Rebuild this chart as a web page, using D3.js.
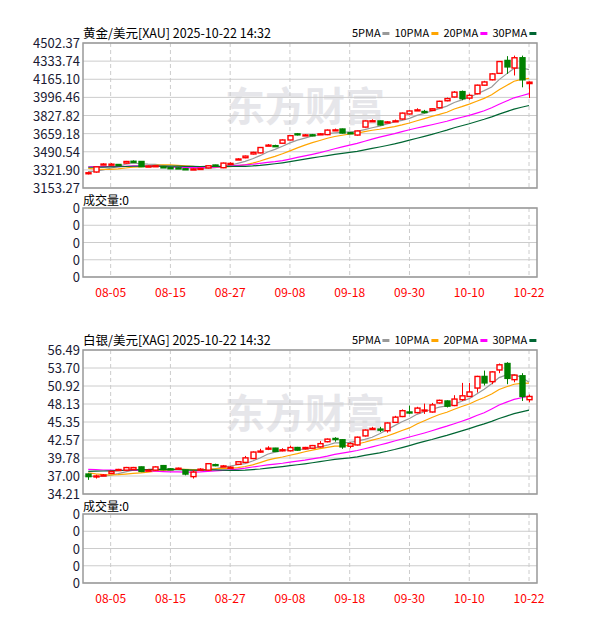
<!DOCTYPE html>
<style>* {padding:0; margin:0; border:0;} body{background:#fff;}</style>
<body>
<script src="https://d3js.org/d3.v7.min.js"></script>
<script>
// x tick labels and the candle index they sit on
dateLabels = ["08-05","08-15","08-27","09-08","09-18","09-30","10-10","10-22"]
dateIdx = [3, 11, 19, 27, 35, 43, 51, 59]

goldTicks = ["4502.37","4333.74","4165.10","3996.46","3827.82","3659.18","3490.54","3321.90","3153.27"]
silverTicks = ["56.49","53.70","50.92","48.13","45.35","42.57","39.78","37.00","34.21"]

// closes before the first visible day, used only for the moving averages
goldPrev = [3340,3345,3330,3310,3325,3340,3350,3355,3340,3330,3345,3350,3360,3375,3350,3340,3355,3370,3390,3420,3430,3395,3370,3335,3310,3325,3320,3295,3290]
silverPrev = [36.2,36.5,36.8,36.9,36.7,36.8,37.1,37.4,38.2,38.4,38.2,38.1,38.3,38.5,37.9,38.2,38.8,39.1,39.3,39.2,38.9,38.3,38.1,37.6,37.3,37.2,37.0,36.9,36.8]

// [open, close, high, low]
gold = [
 [3288,3295,3305,3280],[3302,3350,3355,3296],[3372,3376,3384,3366],[3372,3375,3385,3365],[3372,3370,3376,3366],
 [3385,3400,3405,3380],[3402,3398,3410,3390],[3400,3352,3404,3348],[3355,3357,3362,3350],[3358,3360,3365,3352],
 [3350,3348,3356,3340],[3342,3340,3346,3334],[3340,3338,3344,3332],[3332,3330,3336,3325],[3328,3330,3335,3324],
 [3333,3335,3340,3328],[3340,3360,3364,3336],[3367,3363,3370,3358],[3342,3385,3390,3338],[3378,3382,3392,3372],
 [3420,3423,3430,3414],[3435,3450,3455,3430],[3470,3485,3490,3465],[3480,3530,3535,3476],[3548,3552,3562,3544],
 [3547,3545,3556,3536],[3570,3600,3605,3566],[3600,3640,3646,3596],[3657,3654,3665,3642],[3645,3647,3655,3640],
 [3648,3645,3656,3635],[3654,3657,3665,3650],[3650,3692,3698,3645],[3691,3694,3706,3688],[3702,3665,3706,3660],
 [3667,3665,3672,3658],[3646,3684,3688,3640],[3720,3777,3782,3716],[3776,3779,3792,3770],[3777,3740,3780,3735],
 [3766,3768,3776,3760],[3776,3778,3790,3770],[3795,3850,3855,3790],[3842,3870,3876,3838],[3878,3880,3895,3874],
 [3865,3862,3880,3848],[3875,3890,3895,3870],[3900,3960,3965,3895],[3965,3985,3995,3960],[4000,4045,4055,3995],
 [4050,3985,4060,3970],[3990,4015,4030,3975],[4030,4110,4115,4025],[4110,4140,4150,4105],[4160,4215,4222,4155],
 [4220,4330,4335,4215],[4340,4280,4380,4215],[4270,4365,4385,4200],[4365,4160,4385,4090],[4125,4138,4145,3990]
]

silver = [
 [37.3,36.9,37.4,36.4],[36.95,37.0,37.2,36.6],[37.1,37.15,37.3,37.0],[37.4,37.7,37.8,37.3],[37.9,38.0,38.1,37.8],
 [37.9,38.3,38.4,37.8],[38.0,38.3,38.4,37.9],[38.4,37.7,38.45,37.6],[37.85,37.9,38.0,37.8],[37.9,38.4,38.5,37.8],
 [38.6,38.0,38.7,37.9],[38.1,38.05,38.2,37.95],[38.15,38.2,38.3,38.05],[37.9,37.3,38.0,37.1],[36.9,37.6,37.9,36.6],
 [38.0,38.05,38.2,37.9],[37.9,38.9,39.0,37.8],[38.75,38.7,38.9,38.5],[38.5,38.55,38.7,38.4],[38.3,38.35,38.5,38.2],
 [38.8,39.2,39.3,38.7],[39.1,39.8,40.1,39.0],[39.7,40.7,40.8,39.6],[40.8,40.85,41.2,40.6],[41.25,41.3,41.6,41.0],
 [41.3,40.8,41.35,40.7],[41.0,41.05,41.3,40.8],[40.9,41.4,41.7,40.8],[41.4,41.0,41.5,40.9],[41.2,41.4,41.5,41.1],
 [41.3,41.7,41.8,41.2],[41.5,42.0,42.4,41.4],[42.3,42.7,42.8,42.2],[42.8,42.75,43.0,42.3],[42.6,41.5,42.7,41.2],
 [41.6,42.0,42.2,41.3],[41.8,43.0,43.1,41.7],[43.2,44.1,44.2,43.1],[44.3,44.35,44.6,44.2],[44.25,44.2,44.6,43.8],
 [44.0,45.2,45.3,43.7],[45.3,46.1,46.3,45.2],[46.2,47.1,47.3,46.1],[46.9,46.8,47.9,46.6],[46.8,47.5,47.7,46.7],
 [47.15,47.2,48.2,46.6],[46.9,48.0,48.3,46.8],[48.3,48.7,48.8,48.2],[48.6,47.8,48.7,47.6],[47.9,48.9,49.5,47.8],
 [48.8,49.4,51.4,48.6],[49.3,50.0,51.4,49.2],[50.6,52.4,52.5,49.9],[52.4,51.4,53.3,51.0],[51.6,53.1,53.2,51.2],
 [53.4,54.2,54.4,52.9],[54.4,52.1,54.6,51.2],[51.9,52.6,52.7,51.5],[52.5,49.3,52.9,48.6],[48.8,49.3,49.6,48.4]
]

maNames = ["5PMA","10PMA","20PMA","30PMA"]
maDays = [5, 10, 20, 30]
maColors = ["#999999","#ffa500","#ff00ff","#006633"]

width = 599, height = 624
left = 83, right = 537
red = "#ff0000", green = "#008000"
font = "'Noto Sans CJK SC', 'DejaVu Sans', sans-serif"

svg = d3.select('body').append('svg').attr('width', width).attr('height', height)

x = d3.scaleLinear().domain([-0.7, 60.07]).range([left, right])

function movingAvg(prev, data, n){
  var closes = prev.concat(data.map(function(d){return d[1];}))
  return data.map(function(d, i){
    var end = prev.length + i + 1
    return d3.mean(closes.slice(end - n, end))
  })
}

function grid(g, top, bottom, n){
  var ys = d3.range(n + 1).map(function(i){return top + (bottom - top) * i / n})
  g.selectAll('line.h').data(ys).enter().append('line')
    .attr('x1', left).attr('x2', right).attr('y1', function(d){return d}).attr('y2', function(d){return d})
    .attr('stroke', '#cccccc')
  g.selectAll('line.v').data(dateIdx).enter().append('line')
    .attr('x1', function(d){return x(d)}).attr('x2', function(d){return x(d)})
    .attr('y1', top).attr('y2', bottom)
    .attr('stroke', '#cccccc').attr('stroke-dasharray', '4,3')
  g.append('rect').attr('x', left).attr('y', top).attr('width', right - left).attr('height', bottom - top)
    .attr('fill', 'none').attr('stroke', '#999999').attr('stroke-width', 1.5)
}

function panel(cfg){
  var g = svg.append('g')
  var y = d3.scaleLinear().domain(cfg.domain).range([cfg.bottom, cfg.top])

  g.append('text').attr('x', left).attr('y', cfg.top - 5).text(cfg.title)
    .style('font', '12.5px ' + font).attr('fill', '#000')

  var lx = 352
  maNames.forEach(function(nm, i){
    g.append('text').attr('x', lx).attr('y', cfg.top - 6).text(nm)
      .style('font', '11px ' + font).attr('fill', '#000')
    lx += nm.length * 6.6 + 4
    g.append('rect').attr('x', lx).attr('y', cfg.top - 11).attr('width', 7).attr('height', 3).attr('fill', maColors[i])
    lx += 12
  })

  // watermark
  g.append('text').attr('x', 305).attr('y', cfg.top + 78).attr('text-anchor', 'middle')
    .text('东方财富').style('font', 'bold 40px ' + font).attr('fill', '#e6e6ea')

  grid(g, cfg.top, cfg.bottom, 8)

  g.selectAll('text.yl').data(cfg.ticks).enter().append('text')
    .attr('x', left - 3).attr('y', function(d, i){return cfg.top + (cfg.bottom - cfg.top) * i / 8 + 5})
    .attr('text-anchor', 'end').text(function(d){return d})
    .style('font', '13px ' + font).attr('fill', '#1a1a33')

  // moving averages
  maDays.forEach(function(n, k){
    var ma = movingAvg(cfg.prev, cfg.data, n)
    g.append('path').datum(ma)
      .attr('d', d3.line().x(function(d, i){return x(i)}).y(function(d){return y(d)}))
      .attr('fill', 'none').attr('stroke', maColors[k]).attr('stroke-width', 1.2)
  })

  // candles
  var c = g.selectAll('g.c').data(cfg.data).enter().append('g')
  c.append('line')
    .attr('x1', function(d, i){return Math.round(x(i)) + 0.5}).attr('x2', function(d, i){return Math.round(x(i)) + 0.5})
    .attr('y1', function(d){return y(d[2])}).attr('y2', function(d){return y(d[3])})
    .attr('stroke', function(d){return d[1] >= d[0] ? red : green})
  c.append('rect')
    .attr('x', function(d, i){return Math.round(x(i)) - 2})
    .attr('y', function(d){return Math.min(y(d[0]), y(d[1]))})
    .attr('width', 5)
    .attr('height', function(d){return Math.max(1, Math.abs(y(d[0]) - y(d[1])))})
    .attr('fill', function(d){return d[1] >= d[0] ? '#fff' : green})
    .attr('stroke', function(d){return d[1] >= d[0] ? red : green}).attr('stroke-width', 1.4)

  // volume panel
  var v = svg.append('g')
  v.append('text').attr('x', left).attr('y', cfg.vtop - 3).text('成交量:0')
    .style('font', '12px ' + font).attr('fill', '#000')
  grid(v, cfg.vtop, cfg.vbottom, 4)
  v.selectAll('text.vl').data(d3.range(5)).enter().append('text')
    .attr('x', left - 3).attr('y', function(d){return cfg.vtop + (cfg.vbottom - cfg.vtop) * d / 4 + 5})
    .attr('text-anchor', 'end').text('0')
    .style('font', '13px ' + font).attr('fill', '#1a1a33')
  v.selectAll('text.xl').data(dateLabels).enter().append('text')
    .attr('x', function(d, i){return x(dateIdx[i])}).attr('y', cfg.vbottom + 20)
    .attr('text-anchor', 'middle').text(function(d){return d})
    .style('font', '12px ' + font).attr('fill', red)
}

panel({title: '黄金/美元[XAU] 2025-10-22 14:32', top: 43, bottom: 188, domain: [3153.27, 4502.37],
       ticks: goldTicks, data: gold, prev: goldPrev, vtop: 208, vbottom: 277})
panel({title: '白银/美元[XAG] 2025-10-22 14:32', top: 350, bottom: 494, domain: [34.21, 56.49],
       ticks: silverTicks, data: silver, prev: silverPrev, vtop: 514, vbottom: 583})
</script>
</body>
